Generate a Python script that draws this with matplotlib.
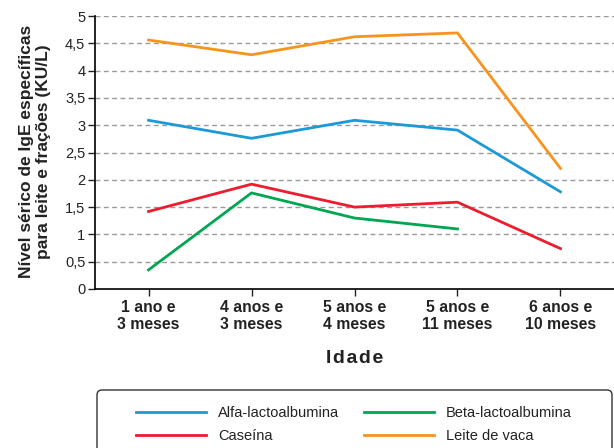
import matplotlib
matplotlib.use("Agg")
import matplotlib.pyplot as plt
from matplotlib.patches import FancyBboxPatch
import numpy as np

categories = ["1 ano e\n3 meses", "4 anos e\n3 meses", "5 anos e\n4 meses",
              "5 anos e\n11 meses", "6 anos e\n10 meses"]
alfa = [3.09, 2.76, 3.09, 2.91, 1.78]
beta = [0.35, 1.76, 1.30, 1.10, np.nan]
caseina = [1.42, 1.92, 1.50, 1.59, 0.74]
leite = [4.56, 4.29, 4.62, 4.69, 2.21]
yticks = [0, 0.5, 1, 1.5, 2, 2.5, 3, 3.5, 4, 4.5, 5]
ytick_labels = ["0", "0,5", "1", "1,5", "2", "2,5", "3", "3,5", "4", "4,5", "5"]

plt.rcParams['font.family'] = ['Liberation Sans', 'DejaVu Sans']

fig = plt.figure(figsize=(6.14, 4.48), dpi=100)
ax = fig.add_axes([95/614, 1-289/448, 1-95/614, (289-16)/448])

x = np.arange(len(categories))
lw = 2.0
l1, = ax.plot(x, alfa, color="#1b9ad6", lw=lw, label="Alfa-lactoalbumina")
l2, = ax.plot(x, beta, color="#00a651", lw=lw, label="Beta-lactoalbumina")
l3, = ax.plot(x, caseina, color="#ed1c2e", lw=lw, label="Caseína")
l4, = ax.plot(x, leite, color="#f7941d", lw=lw, label="Leite de vaca")

ax.set_xlim(-0.52, 4.52)
ax.set_ylim(0, 5)
ax.set_yticks(yticks)
ax.set_yticklabels(ytick_labels, fontsize=10.5, color="#222222")
ax.set_xticks(x)
ax.set_xticklabels(categories, fontsize=11.3, fontweight="bold", color="#222222",
                   linespacing=1.12)
for yv in yticks[1:]:
    ax.axhline(yv, color="#9a9a9a", lw=1.0, ls=(0, (3.5, 2.5)), zorder=0)

ax.spines['top'].set_visible(False)
ax.spines['right'].set_visible(False)
ax.spines['left'].set_linewidth(1.2)
ax.spines['bottom'].set_linewidth(1.2)
ax.tick_params(axis='both', direction='out', length=5, width=1, color="#222222")
ax.tick_params(axis='x', pad=3)
ax.tick_params(axis='y', pad=2)

ax.set_ylabel("Nível sérico de IgE específicas\npara leite e frações (KU/L)",
              fontsize=12.5, fontweight="bold", color="#222222", linespacing=1.18)
ax.yaxis.set_label_coords((51 - 95) / 519, 0.504)
ax.set_xlabel("I d a d e".replace(" ", "\u200a"), fontsize=14, fontweight="bold",
              color="#222222", labelpad=13)

# legend frame (box runs past the bottom of the figure)
frame = FancyBboxPatch((97, -14), 515, 72, boxstyle="round,pad=0,rounding_size=5",
                       transform=None, facecolor="white", edgecolor="#333333",
                       linewidth=1.0)
fig.add_artist(frame)

leg = fig.legend(handles=[l1, l3, l2, l4], ncol=2, loc="upper left",
                 bbox_to_anchor=(136/614, 1-406/448),
                 fontsize=10.5, frameon=False,
                 handlelength=4.8, handletextpad=0.82, columnspacing=1.7,
                 borderpad=0, labelspacing=0.6, borderaxespad=0)
for t in leg.get_texts():
    t.set_color("#222222")

fig.savefig("out.png", dpi=100)
